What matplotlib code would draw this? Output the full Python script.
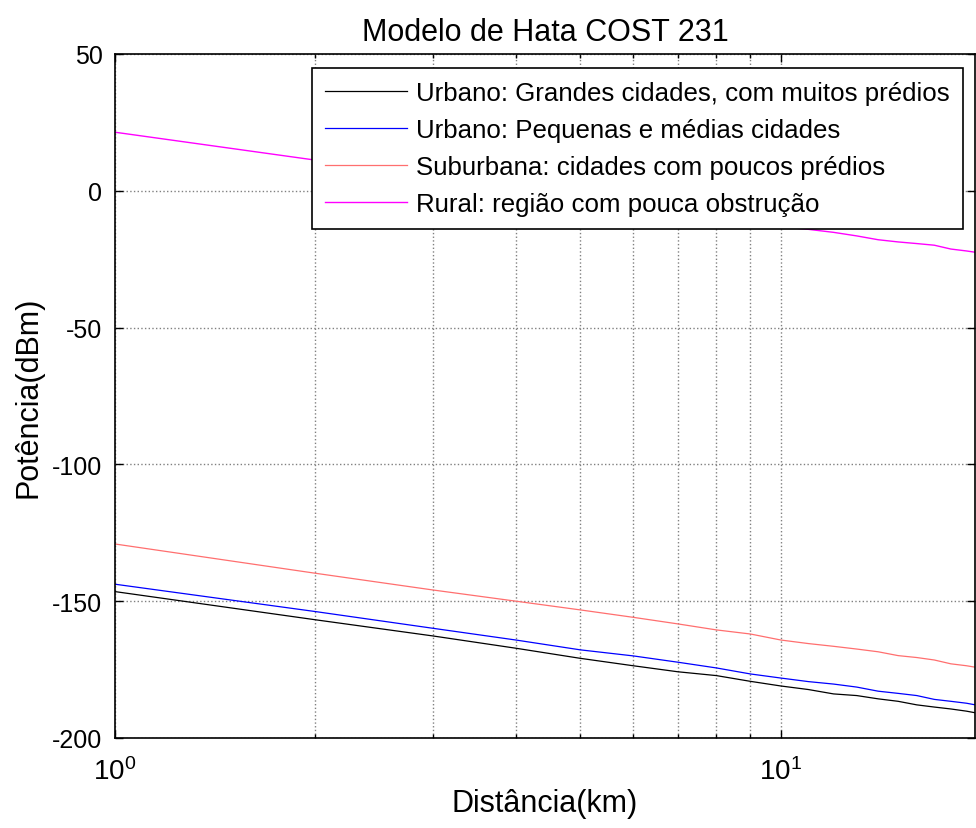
import numpy as np
import matplotlib.pyplot as plt
from matplotlib.ticker import LogLocator, NullFormatter

plt.rcParams['font.family'] = ['Liberation Sans', 'DejaVu Sans']
plt.rcParams['axes.unicode_minus'] = False

# distancia (km) e potencia recebida (dBm) para cada ambiente
dist = [1, 2, 3, 4, 5, 6, 7, 8, 9, 10, 11, 12, 13, 14, 15, 16, 17, 18, 19, 20]
urbano_grande = [-146.5, -156.8, -162.7, -167.2, -170.9, -173.6, -175.8, -177.2, -179.3, -181.0,
                 -182.3, -183.9, -184.5, -185.7, -186.6, -187.9, -188.7, -189.4, -190.2, -191.2]
urbano_medio = [-143.8, -153.8, -159.9, -164.2, -167.8, -170.0, -172.3, -174.4, -176.6, -178.1,
                -179.4, -180.3, -181.4, -182.9, -183.7, -184.5, -185.9, -186.6, -187.3, -188.3]
suburbana = [-129.1, -139.8, -145.9, -150.0, -153.2, -155.9, -158.3, -160.5, -162.0, -164.2,
             -165.5, -166.5, -167.5, -168.5, -169.9, -170.6, -171.5, -172.9, -173.6, -174.5]
rural = [21.4, 11.2, 4.9, 0.6, -2.7, -5.4, -7.7, -9.8, -11.5, -13.2,
         -14.1, -15.2, -16.5, -17.9, -18.7, -19.3, -19.9, -21.3, -22.0, -22.8]

labels = ['Urbano: Grandes cidades, com muitos prédios',
          'Urbano: Pequenas e médias cidades',
          'Suburbana: cidades com poucos prédios',
          'Rural: região com pouca obstrução']
yticks = [-200, -150, -100, -50, 0, 50]

fig = plt.figure(figsize=(9.76, 8.29), dpi=100)
ax = fig.add_axes([0.1178, 0.1086, 0.8812, 0.8251])

ax.semilogx(dist, urbano_grande, color='black', lw=0.9, label=labels[0])
ax.semilogx(dist, urbano_medio, color='blue', lw=0.9, label=labels[1])
ax.semilogx(dist, suburbana, color='#ff6f6f', lw=0.9, label=labels[2])
ax.semilogx(dist, rural, color='magenta', lw=1.0, label=labels[3])

ax.set_xlim(1, 19.57)
ax.set_ylim(-200, 50)
ax.set_yticks(yticks)
ax.xaxis.set_major_locator(LogLocator(base=10))
ax.xaxis.set_minor_locator(LogLocator(base=10, subs=np.arange(2, 10)))
ax.xaxis.set_minor_formatter(NullFormatter())

ax.grid(True, which='major', color='#808080', linestyle=':', lw=1.0)
ax.grid(True, which='minor', axis='x', color='#808080', linestyle=':', lw=1.0)
ax.tick_params(which='both', direction='in', top=True, right=True, labelsize=18, width=1)
ax.tick_params(which='major', length=6)
ax.tick_params(which='minor', length=3)
ax.tick_params(axis='x', which='major', pad=14, labelsize=20)
ax.tick_params(axis='y', which='major', pad=9)
for s in ax.spines.values():
    s.set_linewidth(1.2)

ax.set_title('Modelo de Hata COST 231', fontsize=22, pad=10)
ax.set_xlabel('Distância(km)', fontsize=22, labelpad=2)
ax.set_ylabel('Potência(dBm)', fontsize=22, labelpad=6)

leg = ax.legend(loc='upper right', bbox_to_anchor=(963 / 976, 1 - 69 / 829),
                bbox_transform=fig.transFigure, borderaxespad=0, fontsize=18.6,
                fancybox=False, framealpha=1, edgecolor='black',
                handlelength=3.2, handletextpad=0.35, labelspacing=0.5,
                borderpad=0.5)
leg.get_frame().set_linewidth(1.2)

fig.savefig('out.png', dpi=100)
